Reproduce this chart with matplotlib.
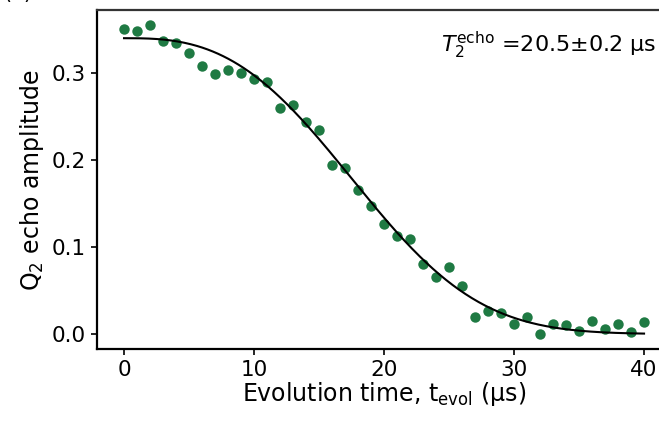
import matplotlib
matplotlib.use('Agg')
import matplotlib.pyplot as plt
import numpy as np

plt.rcParams['font.family'] = ['DejaVu Sans']
plt.rcParams['mathtext.fontset'] = 'dejavusans'

# measured echo amplitude vs evolution time (us)
t_evol = np.arange(0, 41)
amplitude = [0.351, 0.348, 0.355, 0.337, 0.335, 0.323, 0.308, 0.299, 0.304, 0.300,
             0.293, 0.290, 0.260, 0.263, 0.244, 0.234, 0.194, 0.191, 0.165, 0.147,
             0.126, 0.113, 0.109, 0.080, 0.066, 0.077, 0.055, 0.020, 0.026, 0.024,
             0.011, 0.020, 0.000, 0.012, 0.010, 0.004, 0.015, 0.006, 0.011, 0.002,
             0.014]

# fit parameters
fit_amp = 0.340
fit_T2 = 20.5
fit_n = 2.8

x_ticks = [0, 10, 20, 30, 40]
y_ticks = [0.0, 0.1, 0.2, 0.3]

green = '#1f7a43'

fig = plt.figure(figsize=(6.59, 4.24), dpi=100)
ax = fig.add_axes([97 / 659, 75 / 424, (672 - 97) / 659, 339 / 424])

ax.plot(t_evol, amplitude, 'o', color=green, markersize=7.5, markeredgewidth=0, zorder=3)

t_fit = np.linspace(0, 40, 400)
ax.plot(t_fit, fit_amp * np.exp(-(t_fit / fit_T2) ** fit_n), color='black', lw=1.5, zorder=4)

ax.set_xlim(-2.08, 42.15)
ax.set_ylim(-0.0172, 0.3724)
ax.set_xticks(x_ticks)
ax.set_yticks(y_ticks)
ax.set_yticklabels(['{:.1f}'.format(v) for v in y_ticks])

for side in ['left', 'bottom', 'top']:
    ax.spines[side].set_linewidth(1.6)
ax.spines['top'].set_color('#333333')
ax.spines['right'].set_visible(False)
ax.tick_params(direction='out', length=4, width=1.2, labelsize=15.5, pad=4)

ax.set_xlabel(r'Evolution time, t$_{\mathregular{evol}}$ (μs)', fontsize=17, labelpad=0)
ax.set_ylabel(r'Q$_\mathregular{2}$ echo amplitude', fontsize=17, labelpad=4)

ax.text(0.972, 0.895, r'$T_2^{\mathregular{echo}}$ =20.5±0.2 μs', transform=ax.transAxes,
        ha='right', va='center', fontsize=16)

# panel label, mostly cropped off like the source figure
fig.text(0.005, 0.993, '(a)', fontsize=15, ha='left', va='bottom')

fig.savefig('out.png', dpi=100)
